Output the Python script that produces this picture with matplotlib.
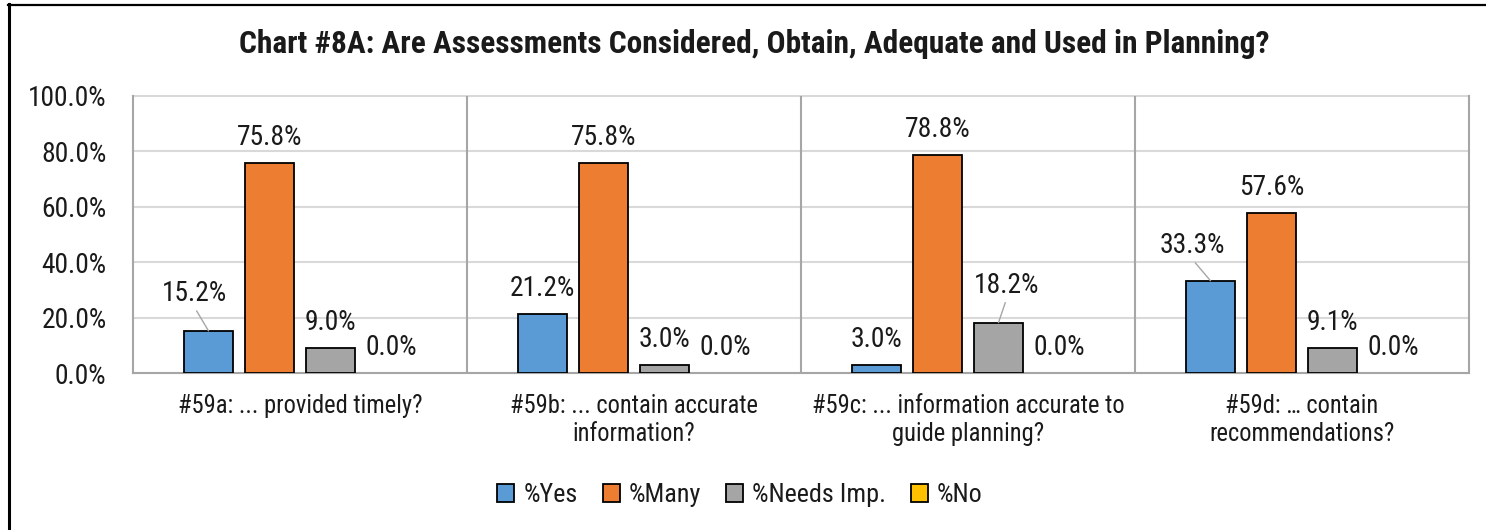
import matplotlib
matplotlib.use('Agg')
import matplotlib.pyplot as plt
from matplotlib import font_manager as fm
from matplotlib.lines import Line2D
from matplotlib.patches import Patch
import numpy as np

# ---------------- data ----------------
categories = ["#59a: ... provided timely?",
              "#59b: ... contain accurate\ninformation?",
              "#59c: ... information accurate to\nguide planning?",
              "#59d: \u2026 contain\nrecommendations?"]
series_names = ["%Yes", "%Many", "%Needs Imp.", "%No"]
yes_vals = [0.152, 0.212, 0.030, 0.333]
many_vals = [0.758, 0.758, 0.788, 0.576]
needs_vals = [0.090, 0.030, 0.182, 0.091]
no_vals = [0.0, 0.0, 0.0, 0.0]
y_ticks = [0.0, 0.2, 0.4, 0.6, 0.8, 1.0]
title = "Chart #8A: Are Assessments Considered, Obtain, Adequate and Used in Planning?"

colors = ["#5B9BD5", "#ED7D31", "#A5A5A5", "#FFC000"]
series = [yes_vals, many_vals, needs_vals, no_vals]

# label offsets (pixels) for labels moved off their default place: (series, category): (dx, dy)
moved = {(0, 0): (-14, 40), (2, 2): (8, 40), (0, 3): (-18, 38)}
default_dy = 28

W, H = 1486, 530
DPI = 100

names = {f.name for f in fm.fontManager.ttflist}
FAM = 'Liberation Sans'
for cand in ['Liberation Sans Narrow', 'Arial Narrow', 'Roboto Condensed']:
    if cand in names:
        FAM = cand
        break
plt.rcParams['font.family'] = [FAM, 'DejaVu Sans']

fig = plt.figure(figsize=(W / DPI, H / DPI), dpi=DPI)
fig.patch.set_facecolor('white')

# fit font sizes to measured widths
renderer = fig.canvas.get_renderer()
def fit(text, target_px, weight='normal', base=20):
    t = fig.text(0, 0, text, fontsize=base, fontweight=weight)
    w = t.get_window_extent(renderer).width
    t.remove()
    return base * target_px / w

fs = fit("100.0%", 79)
fs_cat = fit(categories[0], 244)
fs_leg = fit("%Needs Imp.", 134)
fs_title = fit(title, 1028, 'bold')

ax = fig.add_axes([133 / W, (H - 373) / H, (1469 - 133) / W, (373 - 96) / H])
ax.set_xlim(-0.5, len(categories) - 0.5)
ax.set_ylim(0, 1)

x = np.arange(len(categories))
bw = 0.147
step = 0.1826
for i, (vals, col, name) in enumerate(zip(series, colors, series_names)):
    xs = x + (i - 1.5) * step
    lws = [1.3 if v > 0 else 0 for v in vals]
    ax.bar(xs, vals, width=bw, color=col, edgecolor='black', linewidth=lws, zorder=3, label=name)
    for j, v in enumerate(vals):
        lab = f"{v * 100:.1f}%"
        if (i, j) in moved:
            dx, dy = moved[(i, j)]
            ax.annotate(lab, xy=(xs[j], v), xytext=(dx, dy - 10), textcoords='offset pixels',
                        ha='center', va='baseline', fontsize=fs, color='#1a1a1a', zorder=5)
            # leader line from label bottom to bar top
            ax.annotate("", xy=(xs[j], v), xycoords='data',
                        xytext=(dx * 0.85, dy - 20), textcoords='offset pixels',
                        arrowprops=dict(arrowstyle='-', color='#A6A6A6', lw=1.0,
                                        shrinkA=0, shrinkB=0), zorder=4)
        else:
            ax.annotate(lab, xy=(xs[j], v), xytext=(0, default_dy - 10), textcoords='offset pixels',
                        ha='center', va='baseline', fontsize=fs, color='#1a1a1a', zorder=5)

# grid & spines
ax.set_yticks(y_ticks)
ax.set_yticklabels([f"{t * 100:.1f}%" for t in y_ticks], fontsize=fs, color='#1a1a1a')
ax.yaxis.grid(True, color='#D9D9D9', linewidth=1.5, zorder=0, clip_on=False)
ax.set_axisbelow(True)
for sep in np.arange(0.5, len(categories) - 0.5, 1.0):
    ax.axvline(sep, color='#A6A6A6', linewidth=1.5, zorder=1)
for s in ['left', 'right', 'bottom']:
    ax.spines[s].set_color('#A6A6A6')
    ax.spines[s].set_linewidth(1.5)
ax.spines['top'].set_visible(False)
ax.tick_params(axis='y', length=0, pad=19)
ax.tick_params(axis='x', length=0, pad=15)
ax.set_xticks(x)
ax.set_xticklabels(categories, fontsize=fs_cat, color='#1a1a1a', linespacing=1.2)

# title
fig.text(754 / W, (H - 53) / H, title, ha='center', va='baseline', fontsize=fs_title,
         fontweight='bold', color='#1a1a1a')

# legend
handles = [Patch(facecolor=c, edgecolor='black', linewidth=1.3) for c in colors]
leg = fig.legend(handles, series_names, loc='center', bbox_to_anchor=(740 / W, 1 - 495 / H),
                 ncol=4, frameon=False, fontsize=fs_leg, handlelength=0.65, handleheight=0.65,
                 handletextpad=0.35, columnspacing=0.95)
for t in leg.get_texts():
    t.set_color('#1a1a1a')

# outer border (left and top)
fig.add_artist(Line2D([9 / W, 9 / W], [0, 1 - 4 / H], color='black', linewidth=2.2,
                      transform=fig.transFigure))
fig.add_artist(Line2D([8 / W, 1], [1 - 4.5 / H, 1 - 4.5 / H], color='black', linewidth=1.6,
                      transform=fig.transFigure))

fig.savefig('out.png', dpi=DPI, facecolor='white')
